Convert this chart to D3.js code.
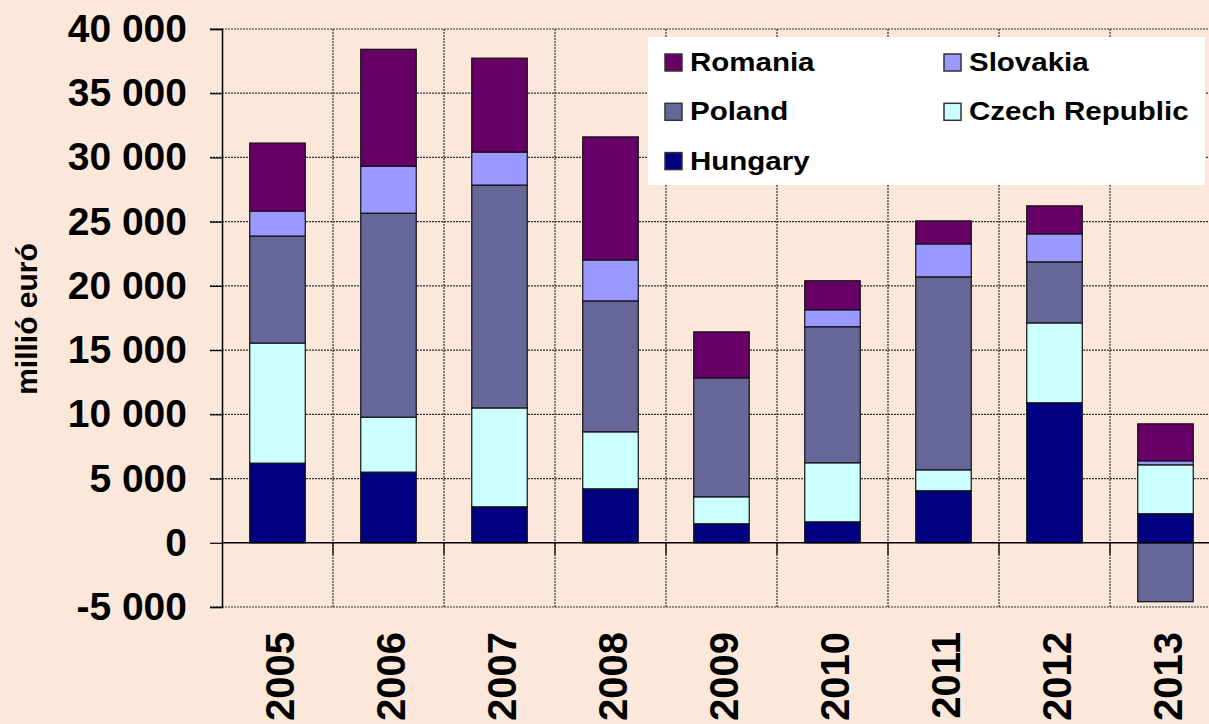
<!DOCTYPE html>
<meta charset='utf-8'>
<style>
  body { margin: 0; background: #fce8da; }
  svg { display: block; font-family: 'Liberation Sans', Arial, sans-serif; font-weight: bold; }
  .grid line { stroke: #333; stroke-width: 1.2; stroke-dasharray: 2,1; }
  .bars rect { stroke: #111; stroke-width: 1.2; }
</style>
<svg width='1209' height='724'></svg>
<script src='https://cdn.jsdelivr.net/npm/d3@7'></script>
<script>
  // data (million euro)
  var years = ['2005', '2006', '2007', '2008', '2009', '2010', '2011', '2012', '2013'];
  var hungary  = [6200, 5500, 2800, 4200, 1480, 1630, 4050, 10900, 2260];
  var czech    = [9350, 4280, 7700, 4440, 2100, 4600, 1630, 6220, 3810];
  var poland   = [8330, 15880, 17350, 10190, 9260, 10590, 15020, 4750, -4590];
  var slovakia = [1950, 3660, 2570, 3190, 0, 1320, 2570, 2180, 310];
  var romania  = [5290, 9100, 7310, 9580, 3580, 2260, 1790, 2180, 2880];
  var yTicks = [-5000, 0, 5000, 10000, 15000, 20000, 25000, 30000, 35000, 40000];

  var seriesNames = ['Hungary', 'Czech Republic', 'Poland', 'Slovakia', 'Romania'];
  var seriesValues = [hungary, czech, poland, slovakia, romania];
  var colors = ['#000080', '#ccffff', '#666699', '#9999ff', '#660066'];

  var svg = d3.select('svg');
  var mLeft = 222, mRight = 1221, mTop = 29, mBottom = 607;

  var rows = years.map(function(y, i) {
    var r = { year: y };
    seriesNames.forEach(function(s, k) { r[s] = seriesValues[k][i]; });
    return r;
  });

  var stack = d3.stack().keys(seriesNames).offset(d3.stackOffsetDiverging);
  var layers = stack(rows);

  var x = d3.scaleBand().domain(years).range([mLeft, mRight]).paddingInner(0).paddingOuter(0);
  var y = d3.scaleLinear().domain([-5000, 40000]).range([mBottom, mTop]);

  var fmt = function(v) { return d3.format(',')(v).replace(/,/g, ' ').replace('−', '-'); };

  // grid
  var grid = svg.append('g').attr('class', 'grid');
  grid.selectAll('.h').data(yTicks.filter(function(t) { return t !== 0; }))
    .enter().append('line')
      .attr('x1', mLeft - 12).attr('x2', mRight)
      .attr('y1', function(d) { return y(d); }).attr('y2', function(d) { return y(d); });
  grid.selectAll('.v').data(years.slice(1))
    .enter().append('line')
      .attr('x1', function(d) { return x(d); }).attr('x2', function(d) { return x(d); })
      .attr('y1', mTop).attr('y2', mBottom);

  // bars
  var barW = x.bandwidth() * 0.5;
  svg.append('g').attr('class', 'bars')
    .selectAll('g').data(layers)
    .enter().append('g')
      .attr('fill', function(d, i) { return colors[i]; })
    .selectAll('rect').data(function(d) { return d; })
    .enter().append('rect')
      .attr('x', function(d) { return x(d.data.year) + (x.bandwidth() - barW) / 2; })
      .attr('width', barW)
      .attr('y', function(d) { return y(Math.max(d[0], d[1])); })
      .attr('height', function(d) { return Math.abs(y(d[0]) - y(d[1])); });

  // y axis
  var yAxis = svg.append('g')
    .attr('transform', 'translate(' + mLeft + ',0)')
    .call(d3.axisLeft(y).tickValues(yTicks).tickSize(12).tickPadding(23).tickFormat(fmt));
  yAxis.selectAll('text').attr('font-size', 39).attr('font-family', 'Liberation Sans, Arial, sans-serif')
    .attr('font-weight', 'bold').attr('fill', '#000');
  yAxis.selectAll('line').attr('stroke', '#000').attr('stroke-width', 1.2);
  yAxis.select('.domain').attr('stroke', '#000').attr('stroke-width', 1.5);

  // zero line
  svg.append('line')
    .attr('x1', mLeft).attr('x2', mRight)
    .attr('y1', y(0)).attr('y2', y(0))
    .attr('stroke', '#000').attr('stroke-width', 1.5);
  svg.append('g').selectAll('line').data(years.slice(1))
    .enter().append('line')
      .attr('x1', function(d) { return x(d); }).attr('x2', function(d) { return x(d); })
      .attr('y1', y(0)).attr('y2', y(0) + 12)
      .attr('stroke', '#000').attr('stroke-width', 1.2);

  // x labels
  svg.append('g').selectAll('text').data(years)
    .enter().append('text')
      .attr('transform', function(d) {
        return 'translate(' + (x(d) + x.bandwidth() / 2 + 16) + ',632) rotate(-90)';
      })
      .attr('text-anchor', 'end')
      .attr('font-size', 40)
      .text(function(d) { return d; });

  // y title
  svg.append('text')
    .attr('transform', 'translate(37,319) rotate(-90)')
    .attr('text-anchor', 'middle')
    .attr('font-size', 30)
    .text('millió euró');

  // legend
  var legend = svg.append('g');
  legend.append('rect')
    .attr('x', 648).attr('y', 37).attr('width', 557).attr('height', 148)
    .attr('fill', '#fff');
  var legendItems = [
    { name: 'Romania', k: 4, col: 0, row: 0 },
    { name: 'Slovakia', k: 3, col: 1, row: 0 },
    { name: 'Poland', k: 2, col: 0, row: 1 },
    { name: 'Czech Republic', k: 1, col: 1, row: 1 },
    { name: 'Hungary', k: 0, col: 0, row: 2 }
  ];
  var li = legend.selectAll('g.item').data(legendItems)
    .enter().append('g')
      .attr('transform', function(d) {
        return 'translate(' + (665 + d.col * 279) + ',' + (62.5 + d.row * 49.3) + ')';
      });
  li.append('rect')
    .attr('x', 0).attr('y', -8.5).attr('width', 17).attr('height', 17)
    .attr('fill', function(d) { return colors[d.k]; })
    .attr('stroke', '#333').attr('stroke-width', 1.5);
  li.append('text')
    .attr('transform', 'translate(25,8.5) scale(1.18,1)')
    .attr('font-size', 25)
    .text(function(d) { return d.name; });
</script>
